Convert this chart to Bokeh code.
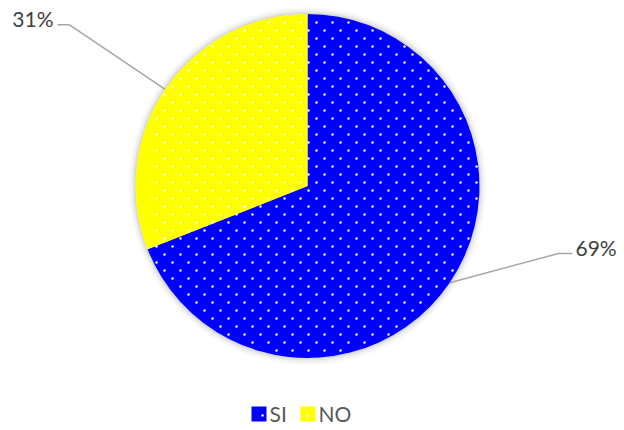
from bokeh.plotting import figure
from bokeh.models import Range1d
from bokeh.embed import file_html
from bokeh.resources import INLINE
from bokeh.core.properties import value
import math

categories = ["SI", "NO"]
shares = [69, 31]
labels = ["69%", "31%"]
colors = ["#0000FF", "#FFFF00"]

W, H = 624, 430
p = figure(width=W, height=H, output_backend="svg", toolbar_location=None,
           x_range=Range1d(0, W), y_range=Range1d(0, H), min_border=0)
p.axis.visible = False
p.grid.visible = False
p.outline_line_color = None
p.background_fill_color = "white"
p.border_fill_color = "white"

cx, cy, r = 307, H - 185.5, 172
font = value("Lato")

# soft shadow
for w, a in [(7, 0.04), (5, 0.06), (3, 0.09), (1.5, 0.14)]:
    p.circle(x=[cx], y=[cy], radius=r + w / 2, fill_color=None,
             line_color="#7f7f7f", line_alpha=a, line_width=w)

total = sum(shares)
start = math.pi / 2
starts, ends, mids = [], [], []
for s in shares:
    sweep = 2 * math.pi * s / total
    starts.append(start)
    ends.append(start - sweep)
    mids.append(start - sweep / 2)
    start -= sweep

p.wedge(x=[cx] * len(shares), y=[cy] * len(shares), radius=r,
        start_angle=starts, end_angle=ends, direction="clock",
        fill_color=colors, line_color=None)

# dotted texture (staggered lattice, 8px rows, 16px in-row)
xs, ys = [], []
for j in range(-25, 26):
    for k in range(-25, 26):
        if (k + j) % 2:
            continue
        px = 356 + 8 * k
        py = 158 + 8 * j
        if (px - 307) ** 2 + (py - 185.5) ** 2 < (r - 1.5) ** 2:
            xs.append(px)
            ys.append(H - py)
p.scatter(x=xs, y=ys, marker="circle", size=2.5, fill_color="white",
          line_color=None, fill_alpha=0.95)

# leader lines and labels
elbows = [((558, 253), (572, 253), 575, 246.5, "left"),
          ((69, 24.3), (57, 24.3), 53, 17.5, "right")]
for i, (e1, e2, tx, ty, align) in enumerate(elbows):
    ax = cx + r * math.cos(mids[i])
    ay = cy + r * math.sin(mids[i])
    p.line(x=[ax, e1[0], e2[0]], y=[ay, H - e1[1], H - e2[1]],
           line_color="#A6A6A6", line_width=1.5)
    p.text(x=[tx], y=[H - ty], text=[labels[i]], text_font=font,
           text_font_size="21px", text_color="#404040",
           text_align=align, text_baseline="middle")

# legend
lx = [251, 300]
for i, c in enumerate(categories):
    p.rect(x=[lx[i] + 7.5], y=[H - 413.5], width=15, height=15,
           fill_color=colors[i], line_color=None)
    p.scatter(x=[lx[i] + 11 - 4 * i], y=[H - 415], marker="circle", size=2.5,
              fill_color="white", line_color=None)
    p.text(x=[lx[i] + 18], y=[H - 413], text=[c], text_font=font,
           text_font_size="21px", text_color="#595959",
           text_align="left", text_baseline="middle")

open("out.html", "w").write(file_html(p, INLINE))
